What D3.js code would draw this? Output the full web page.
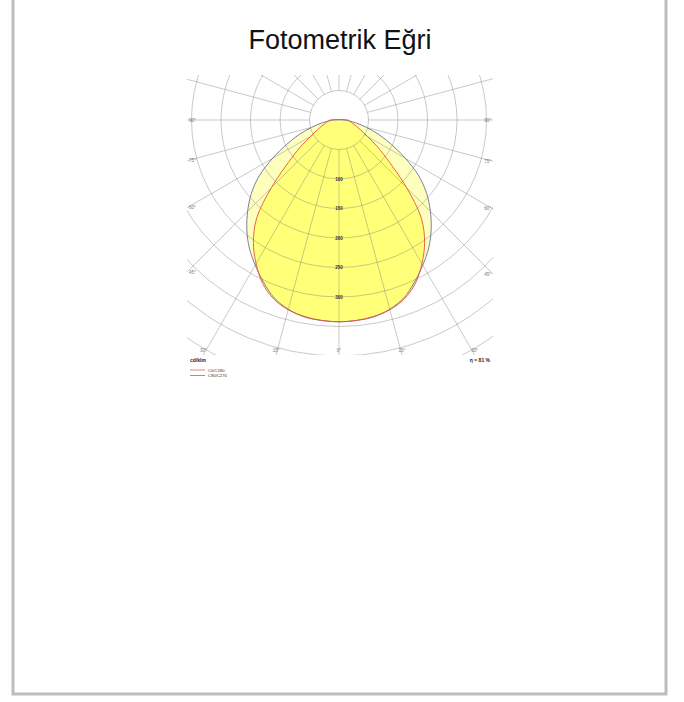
<!DOCTYPE html>
<html>
<head>
<meta charset="utf-8">
<script src="https://cdn.jsdelivr.net/npm/d3@7"></script>
<style>
  html,body{margin:0;padding:0;background:#fff;}
  svg{display:block;}
</style>
</head>
<body>
<svg id="chart" width="684" height="702"></svg>
<script>
// ---- data ----
const gammaAngles = [0,5,10,15,20,25,30,35,40,45,50,55,60,65,70,75,80,85,90];
const c0c180   = [342,341,338,333,323,306,281,253,217,162,112,80,56,41,32,25,21,18,15];
const c90c270  = [342,341,339,332,321,303,284,265,243,219,194,165,130,98,72,48,30,17,8];
const ringValues = [50,100,150,200,250,300,350,400,450,500];
const ringLabels = ["100","150","200","250","300"];
const rayAngles = d3.range(0, 360, 15);
const angleLabels = ["0°","15°","30°","45°","60°","75°","90°"];
const seriesNames = ["C0/C180","C90/C270"];
const title = "Fotometrik Eğri";
const unitText = "cd/klm";
const effText = "η = 81 %";

// ---- layout ----
const svg = d3.select("#chart");
const cx = 339, cy = 120;
const box = {x0:187, y0:75, x1:493, y1:355};
const r = d3.scaleLinear().domain([0,50]).range([0,29.5]);

// frame
svg.append("rect").attr("x",13).attr("y",-5).attr("width",653).attr("height",699)
  .attr("fill","none").attr("stroke","#bdbdbd").attr("stroke-width",3);

svg.append("text").attr("x",340).attr("y",49).attr("text-anchor","middle")
  .attr("font-family","Liberation Sans, Arial, sans-serif").attr("font-size",27)
  .attr("fill","#111").text(title);

svg.append("defs").append("clipPath").attr("id","clip")
  .append("rect").attr("x",box.x0).attr("y",box.y0)
  .attr("width",box.x1-box.x0).attr("height",box.y1-box.y0);

const plot = svg.append("g").attr("clip-path","url(#clip)");
const g = plot.append("g").attr("transform",`translate(${cx},${cy})`);

// curves
function pts(values){
  const right = gammaAngles.map((t,i)=>[Math.PI - t*Math.PI/180, r(values[i])]);
  const left = gammaAngles.slice(1).map((t,i)=>[Math.PI + t*Math.PI/180, r(values[i+1])]).reverse();
  return right.concat(left);
}
const radial = d3.lineRadial().angle(d=>d[0]).radius(d=>d[1]).curve(d3.curveCatmullRomClosed);

g.append("path").attr("d",radial(pts(c90c270)))
  .attr("fill","#ffff33").attr("fill-opacity",0.32).attr("stroke","none");
g.append("path").attr("d",radial(pts(c0c180)))
  .attr("fill","#ffff33").attr("fill-opacity",0.5).attr("stroke","none");

// grid
const gridColor = "rgba(120,120,120,0.5)";
ringValues.forEach(v=>{
  g.append("circle").attr("r",r(v)).attr("fill","none")
    .attr("stroke",gridColor).attr("stroke-width",0.8);
});
rayAngles.forEach(a=>{
  const t = a*Math.PI/180;
  const r0 = r(50), r1 = 500;
  g.append("line")
    .attr("x1",r0*Math.sin(t)).attr("y1",r0*Math.cos(t))
    .attr("x2",r1*Math.sin(t)).attr("y2",r1*Math.cos(t))
    .attr("stroke",gridColor).attr("stroke-width",0.8);
});

// curve outlines
g.append("path").attr("d",radial(pts(c90c270)))
  .attr("fill","none").attr("stroke","#6e6e9a").attr("stroke-width",0.9);
g.append("path").attr("d",radial(pts(c0c180)))
  .attr("fill","none").attr("stroke","#e8504a").attr("stroke-width",0.9);

// ring labels
const small = "Liberation Sans, Arial, sans-serif";
ringLabels.forEach(l=>{
  svg.append("text").attr("x",cx).attr("y",cy + r(+l)+1.5).attr("text-anchor","middle")
    .attr("font-family",small).attr("font-size",4.5).attr("font-weight","bold")
    .attr("fill","#333").text(l);
});

// angle labels
angleLabels.forEach((lab,i)=>{
  const deg = i*15;
  [1,-1].forEach(side=>{
    if(deg===0 && side===-1) return;
    const t = deg*Math.PI/180;
    const dx = side*Math.sin(t), dy = Math.cos(t);
    let tx = Infinity, ty = Infinity;
    if(dx>1e-9) tx = (box.x1-cx)/dx;
    if(dx<-1e-9) tx = (box.x0-cx)/dx;
    if(dy>1e-9) ty = (box.y1-cy)/dy;
    const tt = Math.min(tx,ty);
    const px = cx + dx*tt, py = cy + dy*tt;
    let x=px, y=py, anchor="middle";
    if(tx<ty){ anchor = side>0 ? "end" : "start"; x = px + (side>0?-2:2); y = py+1.5; }
    else { y = py - 3; }
    svg.append("text").attr("x",x).attr("y",y).attr("text-anchor",anchor)
      .attr("font-family",small).attr("font-size",4.5).attr("fill","#777").text(lab);
  });
});

// bottom texts
svg.append("text").attr("x",190).attr("y",362).attr("font-family",small)
  .attr("font-size",5).attr("font-weight","bold").attr("fill","#222").text(unitText);
svg.append("text").attr("x",490).attr("y",362).attr("text-anchor","end").attr("font-family",small)
  .attr("font-size",5).attr("font-weight","bold").attr("fill","#222").text(effText);

const legColors = ["#f07070","#8080e0"];
seriesNames.forEach((n,i)=>{
  const y = 370 + i*5.5;
  svg.append("line").attr("x1",190).attr("x2",205).attr("y1",y).attr("y2",y)
    .attr("stroke",legColors[i]).attr("stroke-width",0.9);
  svg.append("text").attr("x",208).attr("y",y+1.5).attr("font-family",small)
    .attr("font-size",4.2).attr("fill","#333").text(n);
});
</script>
</body>
</html>
